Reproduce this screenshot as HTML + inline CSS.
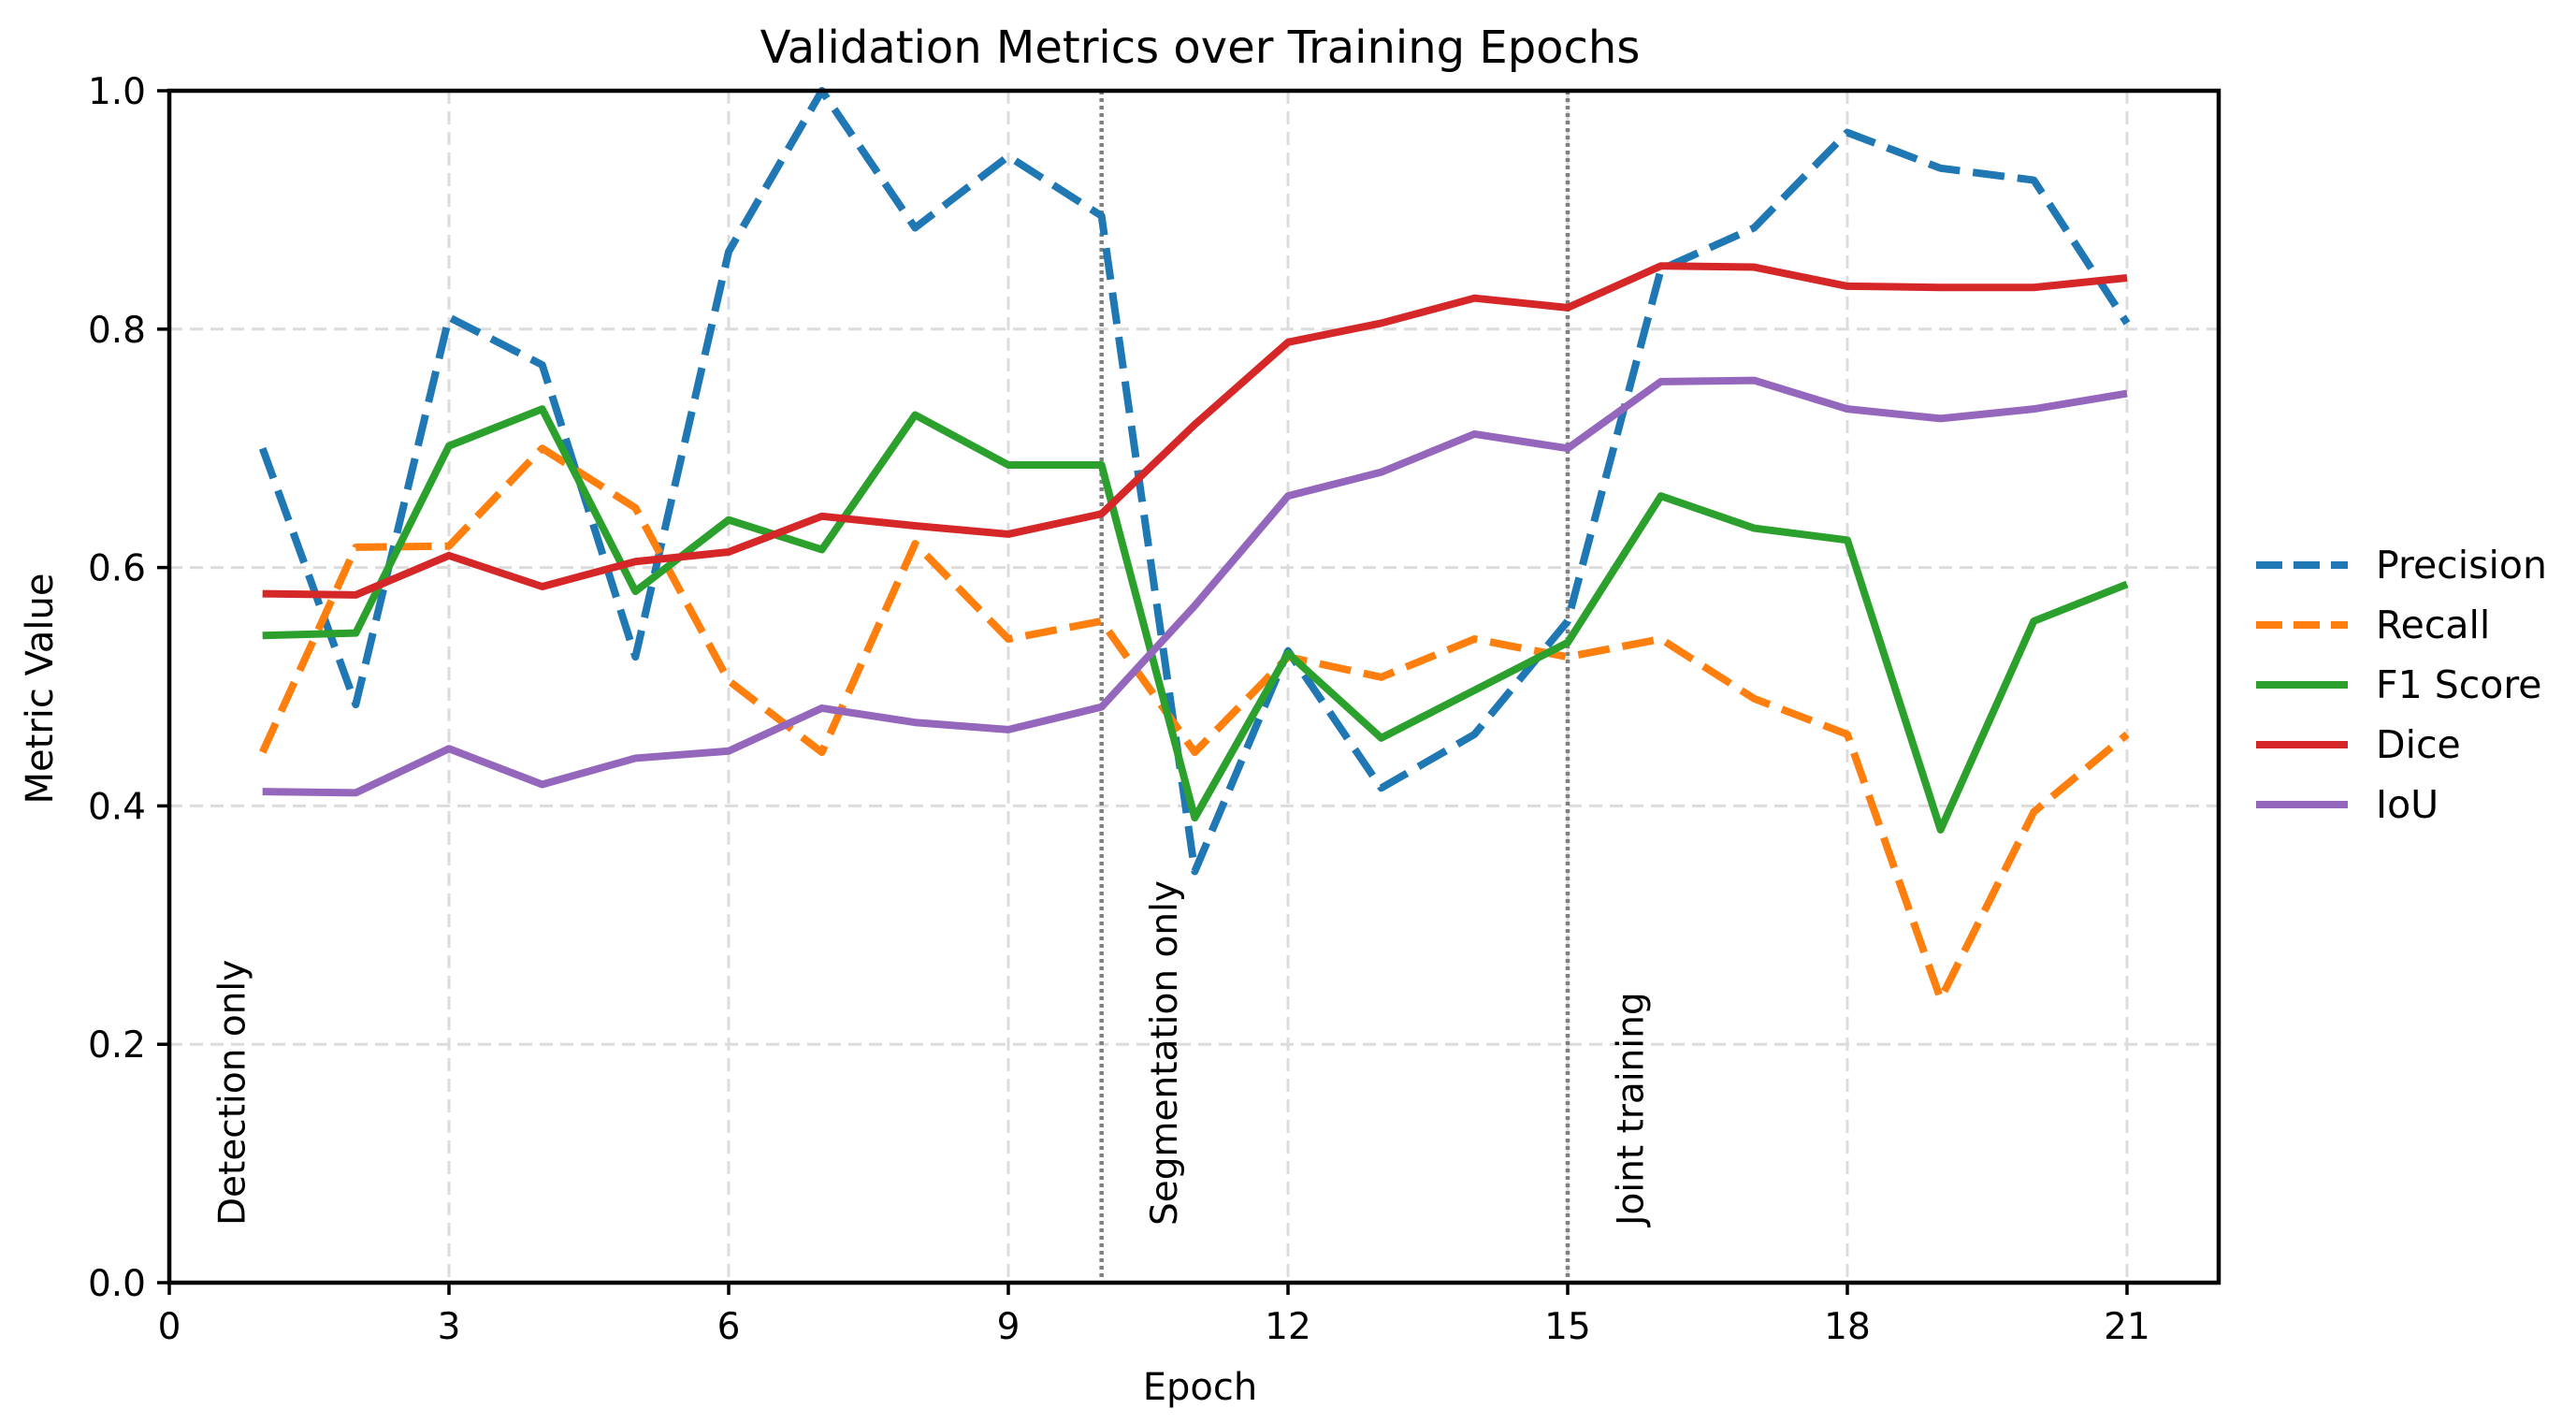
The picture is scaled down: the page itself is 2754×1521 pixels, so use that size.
<!DOCTYPE html>
<html><head><meta charset="utf-8"><style>
html,body{margin:0;padding:0;background:#fff;}
svg{display:block;font-family:"DejaVu Sans","Liberation Sans",sans-serif;}
</style></head><body>
<svg id="chart" width="2754" height="1521" viewBox="0 0 2754 1521"></svg>
<script>
const epochs=[1,2,3,4,5,6,7,8,9,10,11,12,13,14,15,16,17,18,19,20,21];
const precision=[0.70,0.485,0.81,0.77,0.525,0.865,1.0,0.885,0.945,0.895,0.345,0.53,0.415,0.46,0.555,0.85,0.885,0.965,0.935,0.925,0.805];
const recall=[0.445,0.617,0.618,0.70,0.65,0.505,0.445,0.62,0.54,0.555,0.445,0.525,0.508,0.54,0.525,0.54,0.49,0.46,0.238,0.395,0.46];
const f1=[0.543,0.545,0.702,0.733,0.58,0.64,0.615,0.728,0.686,0.686,0.39,0.528,0.457,0.497,0.537,0.66,0.633,0.623,0.38,0.555,0.586];
const dice=[0.578,0.577,0.61,0.584,0.605,0.613,0.643,0.635,0.628,0.645,0.72,0.789,0.805,0.826,0.818,0.853,0.852,0.836,0.835,0.835,0.843];
const iou=[0.412,0.411,0.448,0.418,0.44,0.446,0.482,0.47,0.464,0.483,0.568,0.66,0.68,0.712,0.7,0.756,0.757,0.733,0.725,0.733,0.746];
const xTicks=[0,3,6,9,12,15,18,21];
const yTicks=[0,0.2,0.4,0.6,0.8,1.0];
const phaseEpochs=[10,15];
const phaseLabels=["Detection only","Segmentation only","Joint training"];
const phaseLabelX=[0.7,10.7,15.7];

const L=181,R=2372,T=97,B=1371;
const X21=2274;
const xs=v=>L+v*(X21-L)/21;
const ys=v=>B-v*(B-T);
const svg=document.getElementById('chart');
const NS='http://www.w3.org/2000/svg';
function mk(tag,attrs,parent){const e=document.createElementNS(NS,tag);for(const k in attrs)e.setAttribute(k,attrs[k]);(parent||svg).appendChild(e);return e;}

xTicks.forEach(t=>{const g=mk('line',{x1:xs(t),x2:xs(t),y1:T,y2:B,stroke:'#dcdcdc','stroke-width':3,'stroke-dasharray':'14,8'});

});
yTicks.forEach(t=>{const g=mk('line',{x1:L,x2:R,y1:ys(t),y2:ys(t),stroke:'#dcdcdc','stroke-width':3,'stroke-dasharray':'14,8'});

});

phaseEpochs.forEach(p=>{const l=mk('line',{x1:xs(p),x2:xs(p),y1:T,y2:B,stroke:'#808080','stroke-width':4.5,'stroke-dasharray':'4,4'});

});
phaseLabels.forEach((s,i)=>{const x=xs(phaseLabelX[i]);const t=mk('text',{x:x,y:1310,transform:`rotate(-90 ${x} 1310)`,'font-size':39,fill:'#000','dominant-baseline':'middle'});t.textContent=s;

});

const series=[
 {name:'Precision',data:precision,color:'#1f77b4',dash:'34,14'},
 {name:'Recall',data:recall,color:'#ff7f0e',dash:'34,14'},
 {name:'F1 Score',data:f1,color:'#2ca02c',dash:''},
 {name:'Dice',data:dice,color:'#d62728',dash:''},
 {name:'IoU',data:iou,color:'#9467bd',dash:''}];
series.forEach(s=>{const pts=s.data.map((v,i)=>xs(epochs[i])+','+ys(v)).join(' ');
const p=mk('polyline',{points:pts,fill:'none',stroke:s.color,'stroke-width':8,'stroke-dasharray':s.dash,'stroke-linejoin':'round'});

});

const f=mk('rect',{x:L,y:T,width:R-L,height:B-T,fill:'none',stroke:'#000','stroke-width':4.5});


xTicks.forEach(t=>{mk('line',{x1:xs(t),x2:xs(t),y1:B,y2:B+13,stroke:'#000','stroke-width':3.5});
const tx=mk('text',{x:xs(t),y:1431,'font-size':39,'text-anchor':'middle',fill:'#000'});tx.textContent=t;

});
yTicks.forEach(t=>{mk('line',{x1:L-13,x2:L,y1:ys(t),y2:ys(t),stroke:'#000','stroke-width':3.5});
const tx=mk('text',{x:156,y:ys(t)+14,'font-size':39,'text-anchor':'end',fill:'#000'});tx.textContent=t.toFixed(1);

});

const ti=mk('text',{x:1283,y:67,'font-size':48,'text-anchor':'middle',fill:'#000'});ti.textContent='Validation Metrics over Training Epochs';


const xl=mk('text',{x:1283,y:1496,'font-size':40,'text-anchor':'middle',fill:'#000'});xl.textContent='Epoch';


const yl=mk('text',{x:56,y:736,'font-size':40,'text-anchor':'middle',fill:'#000',transform:'rotate(-90 56 736)'});yl.textContent='Metric Value';



series.forEach((s,i)=>{const y=604+i*64;
const g=mk('g',{});


mk('line',{x1:2412,x2:2510,y1:y,y2:y,stroke:s.color,'stroke-width':8,'stroke-dasharray':s.dash?'28,12':''},g);
const t=mk('text',{x:2540,y:y+14,'font-size':41,fill:'#000'},g);t.textContent=s.name;});
</script>
</body></html>
